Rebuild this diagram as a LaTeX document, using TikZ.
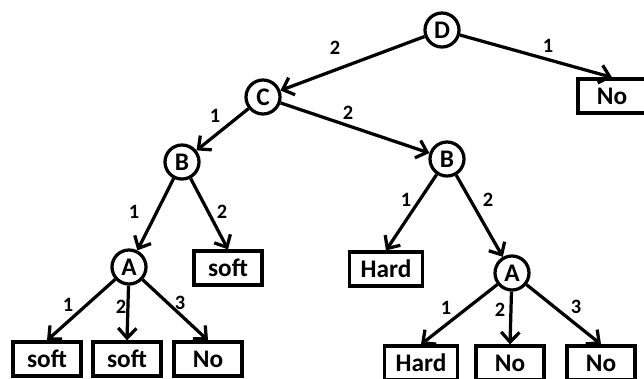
\documentclass[tikz,border=0pt]{standalone}
\usepackage{fontspec}
\setmainfont{Carlito}
\usepackage{tikz}
\usetikzlibrary{arrows.meta}

\tikzset{
  attr/.style={draw, circle, line width=2.3pt, minimum size=0.85cm, inner sep=0pt,
    font=\fontsize{18}{20}\selectfont\bfseries},
  leaf/.style={draw, rectangle, line width=2.3pt, minimum width=1.7cm, minimum height=0.85cm,
    inner xsep=8pt, font=\fontsize{18}{20}\selectfont\bfseries},
  branch/.style={line width=2.3pt, -{Straight Barb[length=7pt,width=13pt,line width=2.3pt]}},
  val/.style={font=\fontsize{14.5}{16}\selectfont\bfseries, inner sep=1pt}
}

\begin{document}
\begin{tikzpicture}[x=0.025cm, y=-0.025cm]
                \useasboundingbox (0,0) rectangle (644,378);

                % decision nodes
                \node[attr] (d)  at (442,30)  {D};
                \node[attr] (c)  at (263,97)  {C};
                \node[attr] (b1) at (182,162) {B};
                \node[attr] (b2) at (447,159) {B};
                \node[attr] (a1) at (129,267) {A};
                \node[attr] (a2) at (512,273) {A};

                % leaves
                \node[leaf] (no0)   at (612,96)  {No};
                \node[leaf] (soft0) at (228,268) {soft};
                \node[leaf] (hard0) at (386,269) {Hard};
                \node[leaf] (soft1) at (47,359)  {soft};
                \node[leaf] (soft2) at (127,359) {soft};
                \node[leaf] (no1)   at (208,359) {No};
                \node[leaf] (hard1) at (421,363) {Hard};
                \node[leaf] (no2)   at (510,363) {No};
                \node[leaf] (no3)   at (601,363) {No};

                \draw[branch] (d) -- (c);
                \draw[branch] (d) -- (no0.north);
                \draw[branch] (c) -- (b1);
                \draw[branch] (c) -- (b2);
                \draw[branch] (b1) -- (a1);
                \draw[branch] (b1) -- (soft0.north);
                \draw[branch] (b2) -- (hard0.north);
                \draw[branch] (b2) -- (a2);
                \draw[branch] (a1) -- (soft1.north);
                \draw[branch] (a1) -- (soft2.north);
                \draw[branch] (a1) -- (no1.north);
                \draw[branch] (a2) -- (hard1.north);
                \draw[branch] (a2) -- (no2.north);
                \draw[branch] (a2) -- (no3.north);

                % branch values
                \node[val] at (335,48)  {2};
                \node[val] at (548,46)  {1};
                \node[val] at (215,116) {1};
                \node[val] at (348,113) {2};
                \node[val] at (134,212) {1};
                \node[val] at (222,212) {2};
                \node[val] at (406,200) {1};
                \node[val] at (488,200) {2};
                \node[val] at (68,305)  {1};
                \node[val] at (121,307) {2};
                \node[val] at (180,303) {3};
                \node[val] at (446,308) {1};
                \node[val] at (500,310) {2};
                \node[val] at (576,307) {3};
\end{tikzpicture}
\end{document}
